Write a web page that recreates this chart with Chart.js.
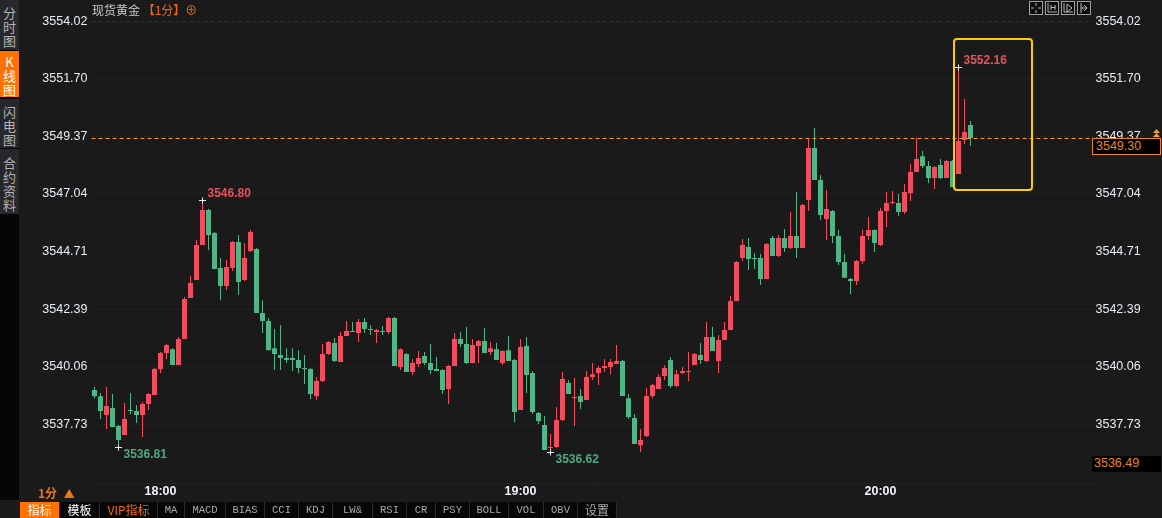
<!DOCTYPE html>
<html>
<head>
<meta charset="utf-8">
<script src="https://cdn.jsdelivr.net/npm/chart.js@4/dist/chart.umd.min.js"></script>
<style>
html,body{margin:0;padding:0;background:#1a1a1a;overflow:hidden}
#wrap{position:relative;width:1162px;height:518px;font-family:"Noto Sans CJK SC",sans-serif}
canvas{position:absolute;left:0;top:0}
.abs{position:absolute}
#side{left:0;top:0;width:19px;height:500px;background:#050505}
.sideBtn{position:absolute;left:0;width:19px;background:#26282d;color:#b4b4b4;font-size:13px;line-height:14px;text-align:center;box-sizing:border-box}
.sideBtn.on{background:#ff7200;color:#fff}
#title{left:92px;top:2px;font-size:12px;line-height:16px;color:#c8c8c8;white-space:nowrap}
#title span{color:#f26a10}
.priceBox{left:1092px;width:69px;height:17px;background:#000;color:#e8851c;font:12.5px/15px "Liberation Sans",sans-serif;padding-left:3px;box-sizing:border-box}
#unit{left:38px;top:485px;color:#e8761a;font-size:12px;font-weight:bold;line-height:16px;white-space:nowrap}
#tabs{left:0;top:502px;width:1162px;height:16px;background:#1a1a1a}
.tab{position:absolute;top:0;height:16px;background:#070707;color:#a8a8a8;border-right:1px solid #2c2c2c;box-sizing:border-box;text-align:center;font:10.5px/16px "Liberation Mono",monospace;white-space:nowrap}
.tab.cjk{font:12px/16px "Noto Sans CJK SC",sans-serif}
.icon{position:absolute;top:1px;width:14px;height:14px;border:1px solid #a0a0a0;background:#0c0c0c;box-sizing:border-box}
</style>
</head>
<body>
<div id="wrap">
  <canvas id="chart" width="1162" height="518"></canvas>
  <div id="side" class="abs"></div>
  <div id="title" class="abs">现货黄金 <span>【1分】⊕</span></div>
  <div id="icons"></div>
  <div class="abs priceBox" style="top:138px;border:1px solid #e8851c">3549.30</div>
  <svg class="abs" style="left:1152px;top:129px" width="9" height="9"><path d="M4.5 0L8 4H1zM4.5 4L8 8H1z" fill="#f0a030"/></svg>
  <div class="abs priceBox" style="top:456px;height:16px;padding-left:2px">3536.49</div>
  <div id="unit" class="abs">1分 <span style="font-size:11px;margin-left:4px">▲</span></div>
  <div id="tabs" class="abs"></div>
</div>
<script>
// K线 1分钟, 17:49 开始
const opens = [3539.12,3538.87,3538.11,3538.39,3537.66,3537.30,3538.31,3538.27,3538.11,3538.55,
  3538.92,3539.97,3540.61,3540.77,3540.13,3541.18,3542.84,3543.56,3544.98,3546.39,
  3545.46,3544.05,3543.32,3544.05,3545.10,3543.56,3544.74,3544.82,3542.23,3541.91,
  3540.81,3540.53,3540.41,3540.41,3540.33,3540.01,3539.97,3538.87,3539.48,3540.57,
  3541.02,3540.25,3541.30,3541.50,3541.42,3541.87,3541.58,3541.46,3541.50,3541.46,
  3542.03,3540.05,3540.57,3539.85,3540.17,3540.49,3540.21,3539.97,3539.93,3539.16,
  3540.09,3541.18,3540.98,3540.21,3540.90,3541.10,3540.65,3540.77,3540.21,3540.73,
  3540.33,3538.31,3540.90,3539.81,3538.19,3537.70,3536.77,3536.81,3537.91,3539.40,
  3538.79,3538.88,3538.71,3539.64,3539.81,3540.01,3540.05,3540.17,3540.29,3538.79,
  3537.99,3536.89,3537.26,3538.88,3539.16,3539.68,3540.33,3539.28,3539.81,3539.85,
  3540.13,3540.53,3540.29,3541.26,3540.29,3541.14,3541.54,3542.72,3544.45,3544.90,
  3544.45,3544.45,3543.60,3545.26,3544.53,3545.26,3544.86,3545.34,3544.86,3546.80,
  3548.90,3547.61,3546.03,3546.35,3545.34,3544.29,3543.60,3543.52,3544.33,3545.34,
  3545.58,3544.98,3546.35,3546.68,3546.68,3546.31,3547.08,3547.93,3548.57,3548.17,
  3547.69,3548.21,3547.69,3548.37,3547.85,3549.22,3549.83];
const highs = [3539.24,3539.00,3539.24,3538.96,3537.70,3538.59,3539.00,3538.51,3538.63,3539.00,
  3540.01,3540.65,3540.98,3540.81,3541.26,3542.88,3543.73,3545.18,3546.80,3546.43,
  3545.50,3544.45,3544.37,3545.14,3545.38,3545.06,3545.58,3544.86,3542.75,3542.03,
  3541.58,3541.74,3540.81,3540.81,3540.73,3540.53,3540.01,3539.64,3540.98,3541.10,
  3541.22,3541.46,3541.91,3541.87,3541.99,3542.03,3541.74,3541.58,3541.70,3542.07,
  3542.07,3540.81,3540.61,3540.37,3540.69,3540.65,3540.98,3540.45,3539.97,3540.13,
  3541.42,3541.46,3541.66,3541.18,3541.14,3541.62,3541.06,3541.02,3540.73,3541.30,
  3540.37,3541.18,3541.26,3539.89,3538.23,3538.07,3537.34,3538.43,3539.85,3539.52,
  3539.60,3539.16,3539.89,3540.21,3540.09,3540.37,3540.37,3540.94,3540.33,3538.96,
  3538.15,3537.54,3539.20,3539.36,3539.76,3540.13,3540.45,3539.93,3540.05,3540.65,
  3540.61,3541.02,3541.87,3541.66,3541.34,3541.87,3542.92,3544.33,3545.22,3545.26,
  3544.66,3544.62,3545.06,3545.34,3545.38,3545.63,3546.31,3547.12,3546.64,3549.30,
  3549.71,3547.81,3547.20,3546.39,3545.59,3544.62,3543.65,3544.37,3545.59,3546.11,
  3545.62,3546.47,3547.12,3547.16,3547.04,3547.44,3548.25,3549.30,3548.78,3548.37,
  3548.17,3548.45,3548.41,3548.41,3552.16,3550.88,3549.99];
const lows = [3538.79,3537.95,3537.54,3537.62,3536.81,3537.30,3538.15,3537.78,3537.22,3538.31,
  3538.92,3539.80,3540.37,3540.13,3540.13,3541.18,3542.84,3543.56,3544.98,3544.78,
  3544.01,3542.75,3543.16,3543.93,3542.96,3543.52,3544.70,3542.23,3541.42,3540.73,
  3539.93,3539.93,3540.21,3539.89,3539.80,3539.36,3538.75,3538.71,3539.44,3540.53,
  3540.25,3540.25,3541.30,3541.46,3541.06,3541.42,3541.34,3541.02,3541.34,3541.38,
  3540.09,3539.93,3539.85,3539.72,3540.05,3540.13,3539.76,3539.89,3538.96,3538.55,
  3540.09,3540.86,3540.17,3540.21,3540.21,3540.61,3540.53,3540.33,3540.13,3540.29,
  3537.82,3538.31,3539.00,3538.15,3537.74,3536.69,3536.62,3536.77,3537.87,3538.96,
  3537.66,3538.35,3538.71,3539.52,3539.32,3539.85,3539.76,3540.17,3538.88,3537.95,
  3536.94,3536.61,3537.22,3538.79,3539.16,3539.52,3539.20,3539.24,3539.76,3539.48,
  3540.13,3540.17,3540.25,3540.69,3539.81,3541.14,3541.54,3542.72,3544.33,3543.97,
  3544.01,3543.36,3543.60,3544.53,3544.49,3544.70,3544.82,3544.45,3544.86,3546.35,
  3547.61,3545.99,3545.18,3545.06,3544.17,3543.65,3543.00,3543.36,3544.21,3545.18,
  3544.70,3544.94,3545.71,3546.64,3546.15,3546.23,3546.76,3547.93,3548.09,3547.48,
  3547.24,3547.65,3547.69,3547.32,3547.85,3549.06,3548.98];
const closes = [3538.87,3538.27,3538.47,3537.62,3537.10,3537.95,3538.27,3538.11,3538.55,3538.96,
  3539.97,3540.61,3540.94,3540.13,3541.18,3542.80,3543.44,3544.98,3546.39,3545.38,
  3544.01,3543.32,3544.09,3545.10,3543.48,3544.45,3545.50,3542.23,3541.91,3540.73,
  3540.57,3540.41,3540.33,3540.33,3540.01,3539.97,3538.96,3539.48,3540.57,3541.06,
  3540.29,3541.30,3541.50,3541.46,3541.87,3541.58,3541.54,3541.54,3541.46,3542.03,
  3540.09,3540.77,3539.85,3540.21,3540.41,3540.21,3539.93,3539.89,3539.12,3540.09,
  3541.18,3540.98,3540.21,3540.94,3541.10,3540.61,3540.81,3540.33,3540.69,3540.29,
  3538.23,3540.86,3539.72,3538.23,3537.87,3536.69,3536.81,3537.91,3539.56,3538.96,
  3538.84,3538.63,3539.64,3539.76,3540.01,3540.09,3540.25,3540.29,3538.88,3538.03,
  3536.94,3537.10,3538.88,3539.32,3539.64,3540.01,3539.28,3539.76,3539.89,3539.89,
  3540.57,3540.33,3541.26,3540.69,3541.14,3541.54,3542.72,3544.29,3544.98,3544.41,
  3544.41,3543.60,3545.02,3544.53,3545.26,3544.86,3545.34,3544.86,3546.60,3548.90,
  3547.61,3546.19,3546.43,3545.34,3544.29,3543.65,3543.52,3544.33,3545.34,3545.58,
  3545.06,3546.35,3546.68,3546.72,3546.31,3547.12,3547.93,3548.45,3548.17,3547.69,
  3548.13,3547.69,3548.37,3547.32,3549.18,3549.55,3549.30];

const priceTicks = [3554.02,3551.70,3549.37,3547.04,3544.71,3542.39,3540.06,3537.73];
const hourTicks = ['18:00','19:00','20:00'];
const lastPrice = 3549.30;
// 标记: 高低点
const markIndex = [4,18,76,144];
const markPrice = [3536.81,3546.80,3536.62,3552.16];
const markSide = ['low','high','low','high'];
// 黄框
const boxFrom = 143.25, boxTo = 156.25, boxTop = 3553.305, boxBottom = 3547.20;

const SLOTS = 167; // 右边留空
const categories = [];
for(let i=0;i<SLOTS;i++){
  const m = 17*60+49+i;
  categories.push(Math.floor(m/60)+':'+String(m%60).padStart(2,'0'));
}

const RED='#f04e60', GREEN='#50b687';
const colors = closes.map((c,i)=> c>=opens[i] ? RED : GREEN);

const overlay = {
  id:'overlay',
  afterDatasetsDraw(chart){
    const {ctx,chartArea:a,scales:{x,y}} = chart;
    ctx.save();
    // 顶部虚线
    ctx.strokeStyle='#333'; ctx.lineWidth=1; ctx.setLineDash([4,3]);
    let py=Math.round(y.getPixelForValue(priceTicks[0]))+.5;
    ctx.beginPath(); ctx.moveTo(a.left,py); ctx.lineTo(a.right,py); ctx.stroke();
    // 最新价
    ctx.strokeStyle='#f79a2e';
    py=Math.round(y.getPixelForValue(lastPrice))+.5;
    ctx.beginPath(); ctx.moveTo(a.left,py); ctx.lineTo(a.right,py); ctx.stroke();
    ctx.setLineDash([]);
    // 框
    ctx.strokeStyle='#ffcc00'; ctx.lineWidth=2;
    ctx.beginPath();
    ctx.roundRect(x.getPixelForValue(boxFrom),y.getPixelForValue(boxTop),
      x.getPixelForValue(boxTo)-x.getPixelForValue(boxFrom),
      y.getPixelForValue(boxBottom)-y.getPixelForValue(boxTop),3);
    ctx.stroke();
    // 十字 + 数字
    ctx.font='bold 12px "Liberation Sans",sans-serif';
    ctx.textBaseline='middle';
    markIndex.forEach((idx,k)=>{
      const mx=Math.floor(x.getPixelForValue(idx))+.5, my=Math.round(y.getPixelForValue(markPrice[k]))+.5;
      ctx.strokeStyle='#eee'; ctx.lineWidth=1;
      ctx.beginPath();
      ctx.moveTo(mx-3.5,my); ctx.lineTo(mx+3.5,my);
      ctx.moveTo(mx,my-3); ctx.lineTo(mx,my+3);
      ctx.stroke();
      const hi = markSide[k]==='high';
      ctx.fillStyle = hi ? '#e8505c' : '#4fa87f';
      ctx.fillText(markPrice[k].toFixed(2), mx+5, my+(hi?-7:7.5));
    });
    ctx.restore();
  }
};

function yAxis(pos,w,grid,pad){
  return {
    position:pos, min:3535.36, max:3554.88,
    afterBuildTicks(s){ s.ticks = priceTicks.map(v=>({value:v})); },
    afterFit(s){ s.width = w; s.paddingTop = 0; s.paddingBottom = 0; },
    border:{display:false,dash:[1,3]},
    grid:{display:grid,drawTicks:false,color:c=> c.index===0 ? 'transparent' : '#343434'},
    ticks:{color:'#e6edf5',padding:pad,autoSkip:false,font:{family:'"Liberation Sans"',size:12.5},callback:v=>v.toFixed(2)}
  };
}

new Chart(document.getElementById('chart'),{
  type:'bar',
  plugins:[overlay],
  data:{
    labels:categories,
    datasets:[
      {data:lows.map((l,i)=>[l,highs[i]]),backgroundColor:colors,barThickness:1,inflateAmount:0,grouped:false,order:2,yAxisID:'y'},
      {data:opens.map((o,i)=>[o,closes[i]]),backgroundColor:colors,barThickness:5,inflateAmount:0,minBarLength:1,grouped:false,order:1,yAxisID:'y'}
    ]
  },
  options:{
    responsive:false,
    devicePixelRatio:1,
    animation:false,
    layout:{padding:0},
    plugins:{legend:{display:false},tooltip:{enabled:false}},
    scales:{
      x:{
        offset:true,
        afterFit(s){ s.height = 35; },
        grid:{display:false,drawTicks:false},
        border:{display:true,color:'#242424'},
        ticks:{color:'#f0f4fa',padding:1,autoSkip:false,maxRotation:0,minRotation:0,
          font:{family:'"Liberation Sans"',size:12.5,weight:'bold'},
          callback(v){ const t=this.getLabelForValue(v); return hourTicks.includes(t)? t : ''; }}
      },
      y:yAxis('left',91.5,true,4),
      yR:yAxis('right',68.5,false,2)
    }
  }
});

// 左侧按钮
const sideButtons = [['分时图',0,50,6],['K线图',51,46,4],['闪电图',99,49,6],['合约资料',149,65,7]];
const side = document.getElementById('side');
sideButtons.forEach((b,k)=>{
  const d=document.createElement('div');
  d.className='sideBtn'+(k===1?' on':'');
  d.style.top=b[1]+'px'; d.style.height=b[2]+'px'; d.style.paddingTop=b[3]+'px';
  d.innerHTML=[...b[0]].join('<br>');
  side.appendChild(d);
});

// 底部标签
const tabNames = ['指标','模板','VIP指标','MA','MACD','BIAS','CCI','KDJ','LW&','RSI','CR','PSY','BOLL','VOL','OBV','设置'];
const tabEdges = [20,60,100,158,185,226,265,299,333,373,407,436,470,509,544,578,617];
const tabs = document.getElementById('tabs');
tabNames.forEach((n,k)=>{
  const d=document.createElement('div');
  d.className='tab'+(/[^\x00-\x7f]/.test(n)?' cjk':'');
  d.style.left=tabEdges[k]+'px'; d.style.width=(tabEdges[k+1]-tabEdges[k])+'px';
  d.textContent=n;
  if(k===0){ d.style.background='#ff7200'; d.style.color='#fff'; }
  if(k===1){ d.style.color='#fff'; }
  if(k===2){ d.style.color='#f26a10'; }
  tabs.appendChild(d);
});

// 右上角小图标
const iconPaths = ['M6 1v3M6 8v3M1 6h3M8 6h3','M2 1v9h9M5 3v5M9 3v5M5 5.5h4','M2 1v9h9M5 2l5 4-5 4z','M3 1v10M3 6h5M6 3l3 3-3 3'];
const icons = document.getElementById('icons');
iconPaths.forEach((p,k)=>{
  const d=document.createElement('div');
  d.className='icon'; d.style.left=(1029+k*16)+'px';
  d.innerHTML='<svg width="12" height="12" style="display:block"><path d="'+p+'" stroke="#bbb" fill="none"/></svg>';
  icons.appendChild(d);
});
</script>
</body>
</html>
